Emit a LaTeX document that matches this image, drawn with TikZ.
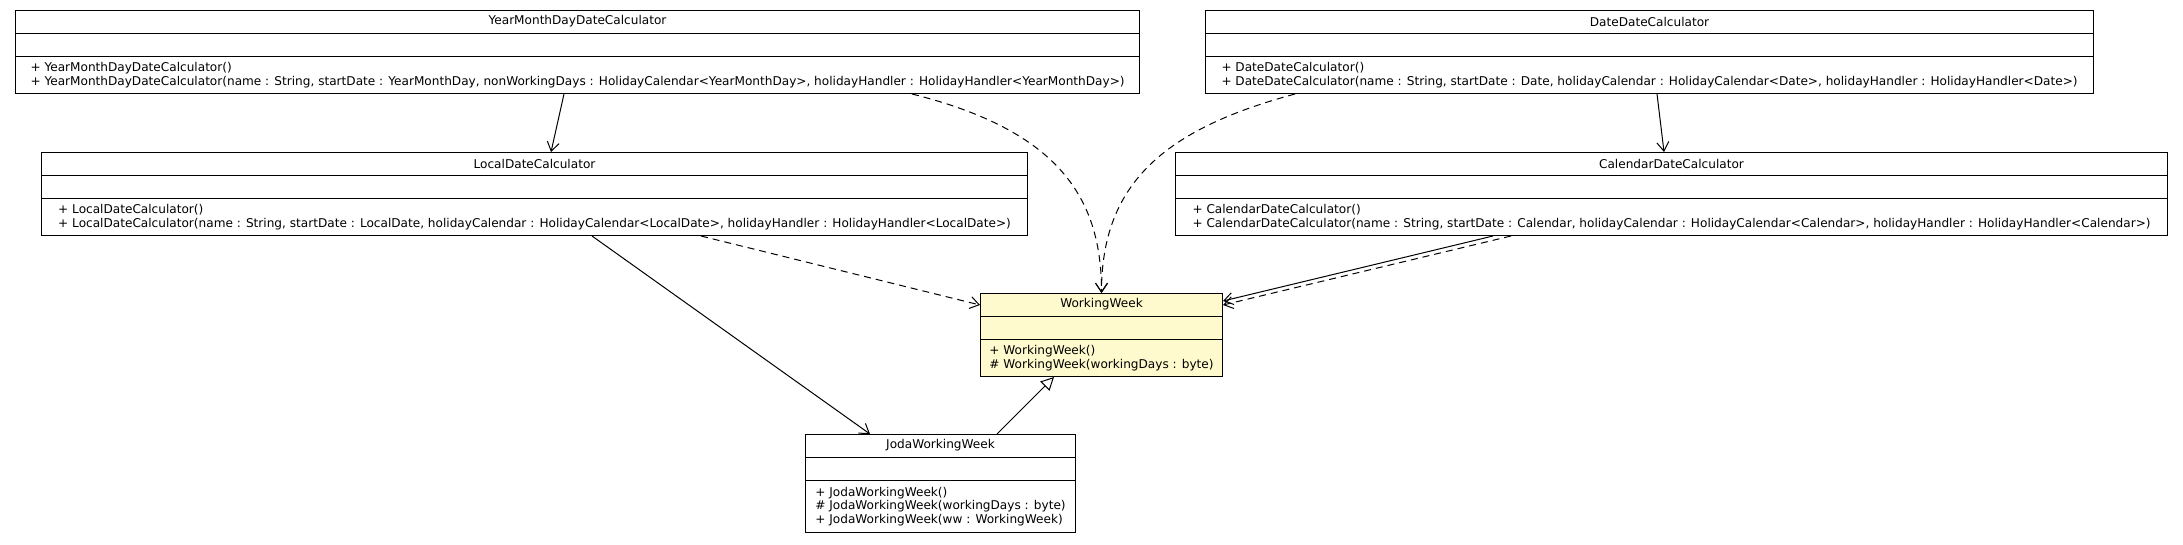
\documentclass[tikz,border=0pt]{standalone}
\usepackage{fontspec}
\setmainfont{DejaVu Sans}
\usetikzlibrary{arrows.meta,calc}
\definecolor{lemon}{HTML}{FFFACD}

\newcommand{\umlclass}[7][]{%
	\node[classbox,#1,minimum width=#4,minimum height=#5,anchor=north west] (#2) at #3 {};
	\draw[classline] ([yshift=-23pt]#2.north west) -- ([yshift=-23pt]#2.north east);
	\draw[classline] ([yshift=-46pt]#2.north west) -- ([yshift=-46pt]#2.north east);
	\node[classtext] (#2-name) at ([yshift=-11.5pt]#2.north) {#6};
	\node[classtext,align=left] (#2-ops) at ($([yshift=-46pt]#2.north)!0.5!(#2.south)$) {#7};
}

\begin{document}
\begin{tikzpicture}[x=1pt,y=-1pt]
			\tikzstyle{every node}+=[inner sep=0pt]
			\tikzstyle{classbox}=[draw=black,line width=1pt,fill=white,rectangle]
			\tikzstyle{classline}=[black,line width=1pt]
			\tikzstyle{classtext}=[font=\fontsize{12.1}{13.4}\selectfont]
			\tikzstyle{assoc}=[-{Straight Barb[length=9pt,width=12pt]},line width=1pt]
			\tikzstyle{depend}=[assoc,dash pattern=on 7pt off 5pt]
			\tikzstyle{extends}=[-{Triangle[open,length=13pt,width=13pt]},line width=1pt]
			\useasboundingbox (0,0) rectangle (2183,544);
			\umlclass{ymd}{(15,10)}{1124pt}{83pt}{YearMonthDayDateCalculator}{+ YearMonthDayDateCalculator()\\+ YearMonthDayDateCalculator(name : String, startDate : YearMonthDay, nonWorkingDays : HolidayCalendar<YearMonthDay>, holidayHandler : HolidayHandler<YearMonthDay>)}
			\umlclass{ddc}{(1205,10)}{888pt}{83pt}{DateDateCalculator}{+ DateDateCalculator()\\+ DateDateCalculator(name : String, startDate : Date, holidayCalendar : HolidayCalendar<Date>, holidayHandler : HolidayHandler<Date>)}
			\umlclass{ldc}{(41,152)}{986pt}{83pt}{LocalDateCalculator}{+ LocalDateCalculator()\\+ LocalDateCalculator(name : String, startDate : LocalDate, holidayCalendar : HolidayCalendar<LocalDate>, holidayHandler : HolidayHandler<LocalDate>)}
			\umlclass{cdc}{(1175,152)}{992pt}{83pt}{CalendarDateCalculator}{+ CalendarDateCalculator()\\+ CalendarDateCalculator(name : String, startDate : Calendar, holidayCalendar : HolidayCalendar<Calendar>, holidayHandler : HolidayHandler<Calendar>)}
			\umlclass[fill=lemon]{ww}{(980,293)}{242pt}{83pt}{WorkingWeek}{+ WorkingWeek()\\\# WorkingWeek(workingDays : byte)}
			\umlclass{jww}{(805,434)}{270pt}{98pt}{JodaWorkingWeek}{+ JodaWorkingWeek()\\\# JodaWorkingWeek(workingDays : byte)\\+ JodaWorkingWeek(ww : WorkingWeek)}
			\draw [assoc] ([xshift=549pt]ymd.south west) -- ([xshift=510pt]ldc.north west);
			\draw [assoc] ([xshift=452pt]ddc.south west) -- ([xshift=489pt]cdc.north west);
			\draw [depend] ([xshift=897pt]ymd.south west) .. controls +(148,37) and +(0,-94) .. (ww.north);
			\draw [depend] ([xshift=90pt]ddc.south west) .. controls +(-130,35) and +(0,-110) .. (ww.north);
			\draw [depend] ([xshift=660pt]ldc.south west) -- ([yshift=-12pt]ww.north west);
			\draw [assoc] ([xshift=551pt]ldc.south west) -- ([xshift=65pt]jww.north west);
			\draw [assoc] ([xshift=318pt]cdc.south west) -- ([yshift=-8pt]ww.north east);
			\draw [depend] ([xshift=336pt]cdc.south west) -- ([yshift=-12pt]ww.north east);
			\draw [extends] ([xshift=192pt]jww.north west) -- ([xshift=74pt]ww.south west);
		\end{tikzpicture}
\end{document}
